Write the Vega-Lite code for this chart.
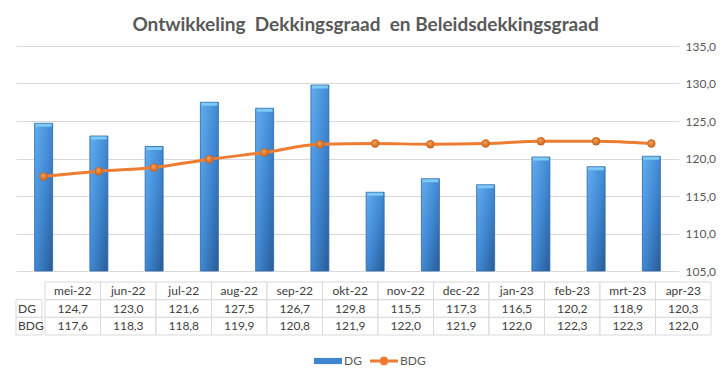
{
  "$schema": "https://vega.github.io/schema/vega-lite/v6.json",
  "padding": {"top": 16, "left": 15, "right": 5, "bottom": 5},
  "background": "white",
  "title": {
    "text": "Ontwikkeling\u00a0 Dekkingsgraad\u00a0 en Beleidsdekkingsgraad",
    "anchor": "middle",
    "frame": "bounds",
    "fontSize": 19,
    "fontWeight": "bold",
    "color": "#595959",
    "offset": 5
  },
  "config": {
    "font": "Lato",
    "locale": {"number": {"decimal": ",", "thousands": ".", "grouping": [3], "currency": ["€", ""]}},
    "view": {"stroke": null}
  },
  "datasets": {
    "d": [
      {"month": "mei-22", "series": "DG", "value": 124.7},
      {"month": "jun-22", "series": "DG", "value": 123.0},
      {"month": "jul-22", "series": "DG", "value": 121.6},
      {"month": "aug-22", "series": "DG", "value": 127.5},
      {"month": "sep-22", "series": "DG", "value": 126.7},
      {"month": "okt-22", "series": "DG", "value": 129.8},
      {"month": "nov-22", "series": "DG", "value": 115.5},
      {"month": "dec-22", "series": "DG", "value": 117.3},
      {"month": "jan-23", "series": "DG", "value": 116.5},
      {"month": "feb-23", "series": "DG", "value": 120.2},
      {"month": "mrt-23", "series": "DG", "value": 118.9},
      {"month": "apr-23", "series": "DG", "value": 120.3},
      {"month": "mei-22", "series": "BDG", "value": 117.6},
      {"month": "jun-22", "series": "BDG", "value": 118.3},
      {"month": "jul-22", "series": "BDG", "value": 118.8},
      {"month": "aug-22", "series": "BDG", "value": 119.9},
      {"month": "sep-22", "series": "BDG", "value": 120.8},
      {"month": "okt-22", "series": "BDG", "value": 121.9},
      {"month": "nov-22", "series": "BDG", "value": 122.0},
      {"month": "dec-22", "series": "BDG", "value": 121.9},
      {"month": "jan-23", "series": "BDG", "value": 122.0},
      {"month": "feb-23", "series": "BDG", "value": 122.3},
      {"month": "mrt-23", "series": "BDG", "value": 122.3},
      {"month": "apr-23", "series": "BDG", "value": 122.0}
    ]
  },
  "spacing": 4,
  "vconcat": [
    {
      "width": 663,
      "height": 225,
      "data": {"name": "d"},
      "encoding": {
        "x": {"field": "month", "type": "nominal", "sort": null, "axis": null},
        "y": {
          "field": "value", "type": "quantitative",
          "scale": {"domain": [105, 135], "zero": false, "nice": false},
          "axis": {
            "orient": "right", "values": [105, 110, 115, 120, 125, 130, 135],
            "tickCount": 7,
            "format": ".1f", "title": null, "ticks": false, "domain": false,
            "labelPadding": 6, "gridColor": "#d9d9d9", "labelColor": "#595959",
            "labelFontSize": 12, "labelOverlap": false, "labelFlush": false
          }
        }
      },
      "layer": [
        {
          "transform": [{"filter": "datum.series === 'DG'"}],
          "mark": {
            "type": "bar",
            "size": 18,
            "stroke": "#2b65a5",
            "strokeWidth": 0.8,
            "fill": {
              "gradient": "linear", "x1": 0, "y1": 0, "x2": 1, "y2": 1,
              "stops": [
                {"offset": 0, "color": "#62aef0"},
                {"offset": 0.5, "color": "#4189d3"},
                {"offset": 1, "color": "#285c98"}
              ]
            }
          },
          "encoding": {"y2": {"datum": 105}}
        },
        {
          "transform": [{"filter": "datum.series === 'DG'"}],
          "mark": {"type": "tick", "orient": "horizontal", "size": 16, "thickness": 3, "color": "#7ccaf5", "yOffset": 2, "opacity": 1}
        },
        {
          "transform": [{"filter": "datum.series === 'BDG'"}],
          "mark": {"type": "line", "stroke": "#ED7D31", "strokeWidth": 3, "interpolate": "monotone"}
        },
        {
          "transform": [{"filter": "datum.series === 'BDG'"}],
          "mark": {
            "type": "point", "filled": true, "size": 70, "opacity": 1,
            "fill": {
              "gradient": "radial", "x1": 0.4, "y1": 0.35, "r1": 0, "x2": 0.5, "y2": 0.5, "r2": 0.55,
              "stops": [{"offset": 0, "color": "#f9a65e"}, {"offset": 1, "color": "#c45a12"}]
            }
          }
        }
      ]
    },
    {
      "spacing": 0,
      "hconcat": [
        {
          "width": 26,
          "height": 53,
          "data": {"name": "d"},
          "transform": [{"filter": "datum.month === 'mei-22'"}],
          "encoding": {
            "y": {"field": "series", "type": "nominal", "scale": {"domain": ["hdr", "DG", "BDG"], "paddingInner": 0, "paddingOuter": 0}, "axis": null}
          },
          "layer": [
            {"mark": {"type": "rect", "fill": "white", "stroke": "#d9d9d9", "strokeWidth": 1}},
            {
              "mark": {"type": "text", "align": "left", "dx": -11, "fontSize": 12, "color": "#404040"},
              "encoding": {"text": {"field": "series"}}
            }
          ]
        },
        {
          "width": 666,
          "height": 53,
          "data": {"name": "d"},
          "encoding": {
            "x": {"field": "month", "type": "nominal", "sort": null, "axis": null, "scale": {"paddingInner": 0, "paddingOuter": 0}}
          },
          "layer": [
            {
              "mark": {"type": "rect", "fill": "white", "stroke": "#d9d9d9", "strokeWidth": 1},
              "encoding": {
                "y": {"field": "series", "type": "nominal", "scale": {"domain": ["hdr", "DG", "BDG"], "paddingInner": 0, "paddingOuter": 0}, "axis": null}
              }
            },
            {
              "transform": [{"filter": "datum.series === 'DG'"}],
              "mark": {"type": "rect", "fill": "white", "stroke": "#d9d9d9", "strokeWidth": 1},
              "encoding": {"y": {"datum": "hdr", "type": "nominal"}}
            },
            {
              "mark": {"type": "text", "fontSize": 12, "color": "#404040"},
              "encoding": {
                "y": {"field": "series", "type": "nominal"},
                "text": {"field": "value", "type": "quantitative", "format": ".1f"}
              }
            },
            {
              "transform": [{"filter": "datum.series === 'DG'"}],
              "mark": {"type": "text", "fontSize": 12, "color": "#404040"},
              "encoding": {
                "y": {"datum": "hdr", "type": "nominal"},
                "text": {"field": "month"}
              }
            },
            {
              "mark": {"type": "point", "filled": true, "opacity": 0},
              "encoding": {
                "y": {"field": "series", "type": "nominal"},
                "color": {
                  "field": "series", "type": "nominal",
                  "scale": {"domain": ["DG", "BDG"], "range": ["#3f86d0", "#ED7D31"]},
                  "legend": {
                    "title": null, "orient": "none", "legendX": 298, "legendY": 301,
                    "direction": "horizontal", "symbolSize": 784, "symbolOpacity": 1,
                    "symbolStrokeWidth": 0, "labelFontSize": 12, "labelColor": "#595959",
                    "labelOffset": 2, "columnPadding": 8,
                    "encode": {
                      "symbols": {
                        "update": {
                          "shape": {"signal": "datum.value === 'DG' ? 'M-1,-0.22H1V0.22H-1Z' : 'M-1,-0.1H-0.32V0.1H-1Z M0.32,-0.1H1V0.1H0.32Z M-0.32,0A0.32,0.32 0 1,1 0.32,0A0.32,0.32 0 1,1 -0.32,0Z'"}
                        }
                      }
                    }
                  }
                }
              }
            }
          ]
        }
      ]
    }
  ]
}
